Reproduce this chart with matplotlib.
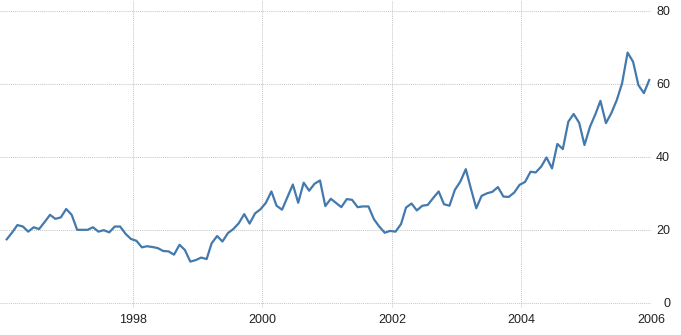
import matplotlib
matplotlib.use('Agg')
import matplotlib.pyplot as plt
import matplotlib.dates as mdates
import pandas as pd

# Monthly values, Jan 1996 .. Dec 2005
start_month = '1996-01-22'
values = [
    17.4, 19.3, 21.3, 20.9, 19.5, 20.7, 20.2, 22.1, 24.1, 23.0, 23.4, 25.7,
    24.1, 20.0, 20.0, 20.0, 20.7, 19.5, 19.9, 19.3, 20.9, 20.9, 18.9, 17.5,
    17.0, 15.2, 15.5, 15.3, 15.0, 14.2, 14.1, 13.2, 15.9, 14.5, 11.3, 11.7,
    12.4, 12.0, 16.3, 18.3, 16.8, 19.1, 20.2, 21.8, 24.3, 21.7, 24.5, 25.6,
    27.4, 30.5, 26.6, 25.5, 28.9, 32.4, 27.4, 32.9, 30.7, 32.6, 33.5, 26.5,
    28.5, 27.3, 26.2, 28.4, 28.2, 26.2, 26.4, 26.4, 22.9, 20.9, 19.2, 19.7,
    19.5, 21.6, 26.1, 27.2, 25.3, 26.6, 26.8, 28.7, 30.5, 27.0, 26.6, 30.9,
    33.2, 36.6, 31.4, 25.9, 29.3, 30.0, 30.4, 31.7, 29.1, 29.0, 30.2, 32.3,
    33.1, 35.9, 35.7, 37.3, 39.8, 36.8, 43.5, 42.1, 49.6, 51.7, 49.3, 43.2,
    48.2, 51.7, 55.3, 49.2, 51.9, 55.5, 60.1, 68.5, 66.0, 59.6, 57.4, 61.0,
]
x_tick_years = [1998, 2000, 2002, 2004, 2006]
y_ticks = [0, 20, 40, 60, 80]

dates = pd.date_range(start_month, periods=len(values), freq=pd.DateOffset(months=1))

plt.rcParams['font.family'] = ['Liberation Sans', 'DejaVu Sans']

fig = plt.figure(figsize=(6.81, 3.35), dpi=100)
ax = fig.add_axes([0.0, 27 / 335, 651 / 681, 308 / 335])

ax.plot(dates, values, color='#4379ad', lw=1.6, solid_joinstyle='round', zorder=3)

ax.set_xlim(pd.Timestamp('1995-12-15'), pd.Timestamp('2006-01-01'))
ax.set_ylim(-1.4, 82.9)
ax.set_xticks([pd.Timestamp(f'{y}-01-01') for y in x_tick_years])
ax.xaxis.set_major_formatter(mdates.DateFormatter('%Y'))
ax.set_yticks(y_ticks)

ax.yaxis.tick_right()
for lab in ax.get_yticklabels():
    lab.set_horizontalalignment('right')
ax.tick_params(axis='y', length=0, pad=13.7, labelsize=9, labelcolor='#222222')
ax.tick_params(axis='x', length=0, pad=4, labelsize=9, labelcolor='#222222')

ax.grid(True, color='#c8c8c8', lw=0.75, linestyle=(0, (1, 1)))
for s in ax.spines.values():
    s.set_visible(False)

fig.savefig('out.png', dpi=100)
